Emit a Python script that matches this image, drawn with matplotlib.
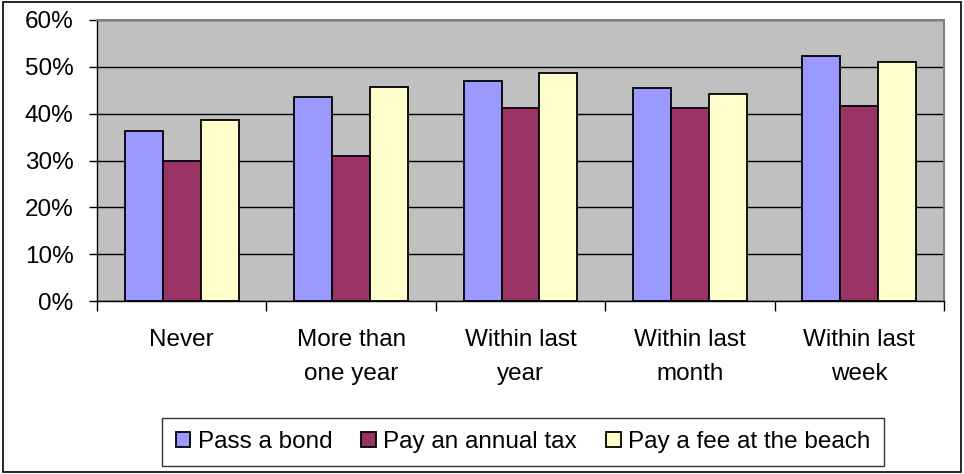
import numpy as np
import matplotlib
matplotlib.use("Agg")
import matplotlib.pyplot as plt
from matplotlib.patches import Rectangle

categories = ["Never", "More than\none year", "Within last\nyear", "Within last\nmonth", "Within last\nweek"]
series_names = ["Pass a bond", "Pay an annual tax", "Pay a fee at the beach"]
pass_bond = [36.2, 43.5, 46.9, 45.5, 52.4]
annual_tax = [29.8, 31.0, 41.3, 41.3, 41.7]
beach_fee = [38.7, 45.6, 48.6, 44.3, 51.1]
colors = ["#9999FF", "#993366", "#FFFFCC"]

plt.rcParams['font.family'] = ['Liberation Sans', 'DejaVu Sans']
fs = 17.5

fig = plt.figure(figsize=(9.64, 4.74), dpi=100)
ax = fig.add_axes([97 / 964, 1 - 301 / 474, (944 - 97) / 964, (301 - 20) / 474])
ax.set_facecolor("#C0C0C0")

x = np.arange(len(categories))
w = 0.224
for i, (vals, name) in enumerate(zip([pass_bond, annual_tax, beach_fee], series_names)):
    ax.bar(x + (i - 1) * w, vals, width=w, color=colors[i], edgecolor="black",
           linewidth=1.3, label=name, zorder=3)

ax.set_ylim(0, 60)
ax.set_xlim(-0.5, len(categories) - 0.5)
ax.set_yticks(range(0, 61, 10))
ax.set_yticklabels([f"{v}%" for v in range(0, 61, 10)], fontsize=fs)
ax.yaxis.grid(True, color="black", linewidth=1.0, zorder=0)
ax.set_axisbelow(True)

ax.set_xticks(np.arange(-0.5, len(categories), 1.0))
ax.set_xticklabels([])
ax.set_xticks(x, minor=True)
ax.set_xticklabels(categories, minor=True, fontsize=fs, linespacing=1.7)
ax.tick_params(axis="x", which="minor", length=0, pad=20)
ax.tick_params(axis="x", which="major", length=7, width=1, direction="out")
ax.tick_params(axis="y", length=6, width=1, direction="out", pad=11)

for s in ["top", "right"]:
    ax.spines[s].set_color("#808080")
    ax.spines[s].set_linewidth(1.5)
for s in ["left", "bottom"]:
    ax.spines[s].set_color("black")
    ax.spines[s].set_linewidth(1.0)

leg = fig.legend(loc="center", bbox_to_anchor=(523 / 964, 1 - 442 / 474), ncol=3,
                 fontsize=fs, frameon=True, fancybox=False, edgecolor="black",
                 handlelength=0.6, handleheight=0.6, handletextpad=0.3,
                 columnspacing=1.2, borderpad=0.55)
leg.get_frame().set_linewidth(1.0)

fig.patches.append(Rectangle((0.003, 0.004), 0.994, 0.992, transform=fig.transFigure,
                             fill=False, edgecolor="black", linewidth=1.2))

fig.savefig("out.png", dpi=100)
